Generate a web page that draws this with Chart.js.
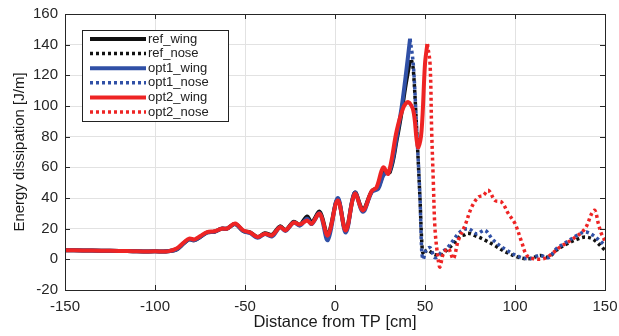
<!DOCTYPE html>
<html>
<head>
<meta charset="utf-8">
<script src="https://cdn.jsdelivr.net/npm/chart.js@4/dist/chart.umd.min.js"></script>
<style>
  body { margin: 0; background: #fff; }
  #wrap { width: 619px; height: 336px; }
</style>
</head>
<body>
<div id="wrap"><canvas id="chart"></canvas></div>
<script>
// wing curves (ref + opt1 share x positions)
const wingX = [-150, -140, -130, -120, -110, -100, -93, -88, -84, -81, -78, -75, -71, -67, -63, -60, -55.5, -51, -47, -43, -39, -35, -30.5, -27.5, -23, -19.5, -15.5, -13, -8.5, -4, 1.5, 6, 11, 15.5, 20.5, 24, 27, 30.5, 34.3, 37, 39, 41.7];
const refWingY = [6, 5.8, 5.6, 5.5, 5.2, 5.2, 5.2, 6.5, 10.5, 13, 12.5, 14.5, 17.5, 18, 20, 20, 23, 18.5, 17.5, 14.5, 17, 16, 21.5, 19, 24.5, 22.5, 28, 24, 31, 16, 39, 19, 43.5, 32.5, 44.5, 47, 56, 57, 78, 96, 112, 130];
const opt1WingY = [6, 5.8, 5.6, 5.5, 5.2, 5.2, 5.2, 6.5, 10.5, 13, 12.5, 14.5, 17.5, 18, 20, 20, 23, 18.5, 17, 14, 16.5, 15, 21, 18.5, 24, 22, 26.5, 23, 30, 12.5, 40, 17.5, 43.5, 31, 44, 46, 55, 58, 80, 99, 117, 143.8];

const opt2WingX = [-150, -140, -130, -120, -110, -100, -93, -88, -84, -81, -78, -75, -71, -67, -63, -60, -55.5, -51, -47, -43, -39, -35, -30.5, -27.5, -23, -19.5, -15.5, -13, -8.5, -4, 1.5, 6, 11, 15.5, 20.4, 23.1, 26.8, 29.6, 34.3, 38, 40.7, 43.5, 45.4, 46.3, 48.1, 50, 51.3];
const opt2WingY = [6, 5.8, 5.6, 5.5, 5.2, 5.2, 5.2, 7, 11, 13.5, 13, 15, 17.8, 18.3, 20, 20, 23.3, 18.9, 17.4, 14.5, 16.7, 15.6, 21, 18.9, 23.9, 22.8, 25.4, 23.2, 29.8, 15.6, 38.4, 18.9, 42.8, 31.9, 44.5, 47, 60, 55.8, 84, 99, 102.5, 97, 77.5, 73, 84, 127.5, 140.5];

// nose curves
const refNoseX = [42.5, 43.5, 45.4, 47.2, 48.5, 49.5, 51, 53, 55.6, 59.3, 62, 65.7, 69.4, 72, 74, 78.7, 83.3, 88, 95.4, 102.8, 108.3, 113.9, 118.5, 123.1, 128.7, 134.3, 138.9, 143.5, 150];
const refNoseY = [130, 124, 84, 40, 6, 3, 6, 5, 3, 3, 6, 10, 15, 16, 17, 15, 12.5, 9.5, 4.5, 1, 0.5, 2.5, 1.5, 6, 10, 13, 14.5, 13, 6];

const opt1NoseX = [41.7, 43.5, 45.4, 47.2, 48.2, 49, 50.5, 52.8, 55.6, 59.3, 62, 65.7, 69.4, 74, 78.7, 83.3, 88, 95.4, 102.8, 108.3, 113.9, 118.5, 123.1, 128.7, 134.3, 138.9, 143.5, 150];
const opt1NoseY = [143.8, 127, 84, 40.6, 5, 0, 5.9, 7.6, 1.1, 4.8, 7, 12.4, 17.8, 20, 16.7, 18.9, 12.4, 5.9, 1.5, 0.4, 2.6, 1.1, 7, 11.3, 15.6, 17.8, 15.6, 9.1];

const opt2NoseX = [51.3, 52.8, 53.7, 54.6, 55.6, 57.4, 58.3, 60.2, 63, 65.7, 68.5, 72.2, 75.9, 79.6, 82.4, 85.2, 88.9, 92.6, 96.3, 100, 103.7, 106.5, 110.2, 115.7, 119.4, 125, 132.4, 138.9, 142.6, 144.4, 146.3, 148, 150];
const opt2NoseY = [140.5, 127.5, 84, 51.5, 18.9, -0.7, -5, 3.7, 7, 0.4, 12.4, 22, 34, 40.6, 41.7, 45, 38.4, 37.3, 29.8, 23.3, 11.3, 2.6, 0.4, 0.4, 2.6, 8, 13.5, 20, 29.8, 31.9, 23.3, 16.7, 12];

const xTicks = [-150, -100, -50, 0, 50, 100, 150];
const yTicks = [-20, 0, 20, 40, 60, 80, 100, 120, 140, 160];

const BLACK = '#111111';
const BLUE = '#3050a6';
const RED = '#ee2424';

function pts(xs, ys) {
  return xs.map((x, i) => ({ x: x, y: ys[i] }));
}

function series(label, xs, ys, color, dotted, order) {
  return {
    label: label,
    data: pts(xs, ys),
    borderColor: color,
    backgroundColor: color,
    borderWidth: dotted ? 3.5 : 4,
    borderDash: dotted ? [3, 3] : [],
    pointRadius: 0,
    tension: 0.35,
    order: order
  };
}

// matlab-ish legend box inside the axes
const boxLegend = {
  id: 'boxLegend',
  afterDatasetsDraw(chart) {
    const ctx = chart.ctx;
    const ca = chart.chartArea;
    const x0 = ca.left + 17, y0 = ca.top + 16, w = 146, h = 91;
    ctx.save();
    ctx.fillStyle = '#fff';
    ctx.fillRect(x0, y0, w, h);
    ctx.strokeStyle = '#222';
    ctx.lineWidth = 1;
    ctx.strokeRect(x0 + 0.5, y0 + 0.5, w, h);
    ctx.font = '13px "Liberation Sans", Arial, sans-serif';
    ctx.textBaseline = 'middle';
    chart.data.datasets.forEach((ds, i) => {
      const y = y0 + 9 + i * 14.6;
      ctx.beginPath();
      ctx.strokeStyle = ds.borderColor;
      ctx.lineWidth = ds.borderWidth;
      ctx.setLineDash(ds.borderDash);
      ctx.moveTo(x0 + 8, y);
      ctx.lineTo(x0 + 64, y);
      ctx.stroke();
      ctx.setLineDash([]);
      ctx.fillStyle = '#222';
      ctx.fillText(ds.label, x0 + 66, y);
    });
    ctx.restore();
  }
};

// box frame and inward ticks
const frame = {
  id: 'frame',
  afterDraw(chart) {
    const ctx = chart.ctx;
    const ca = chart.chartArea;
    const sx = chart.scales.x, sy = chart.scales.y;
    ctx.save();
    ctx.strokeStyle = '#262626';
    ctx.lineWidth = 1;
    ctx.strokeRect(ca.left + 0.5, ca.top + 0.5, ca.right - ca.left, ca.bottom - ca.top);
    ctx.beginPath();
    xTicks.forEach(v => {
      const px = Math.round(sx.getPixelForValue(v)) + 0.5;
      ctx.moveTo(px, ca.bottom); ctx.lineTo(px, ca.bottom - 5);
      ctx.moveTo(px, ca.top); ctx.lineTo(px, ca.top + 5);
    });
    yTicks.forEach(v => {
      const py = Math.round(sy.getPixelForValue(v)) + 0.5;
      ctx.moveTo(ca.left, py); ctx.lineTo(ca.left + 5, py);
      ctx.moveTo(ca.right, py); ctx.lineTo(ca.right - 5, py);
    });
    ctx.stroke();
    ctx.restore();
  }
};

const tickFont = { family: '"Liberation Sans", Arial, sans-serif', size: 15 };

new Chart(document.getElementById('chart'), {
  type: 'line',
  data: {
    datasets: [
      series('ref_wing', wingX, refWingY, BLACK, false, 6),
      series('ref_nose', refNoseX, refNoseY, BLACK, true, 5),
      series('opt1_wing', wingX, opt1WingY, BLUE, false, 4),
      series('opt1_nose', opt1NoseX, opt1NoseY, BLUE, true, 3),
      series('opt2_wing', opt2WingX, opt2WingY, RED, false, 2),
      series('opt2_nose', opt2NoseX, opt2NoseY, RED, true, 1)
    ]
  },
  options: {
    responsive: true,
    maintainAspectRatio: false,
    animation: false,
    layout: { padding: { top: 14, right: 14, left: 0, bottom: 0 } },
    plugins: {
      legend: { display: false },
      tooltip: { enabled: false }
    },
    scales: {
      x: {
        type: 'linear',
        min: -150,
        max: 150,
        afterBuildTicks: s => { s.ticks = xTicks.map(v => ({ value: v })); },
        afterFit: s => { s.height = 46; s.paddingLeft = 0; s.paddingRight = 0; },
        grid: { color: '#e2e2e2', drawTicks: false },
        border: { display: false },
        ticks: { color: '#262626', font: tickFont, padding: 8, maxRotation: 0 },
        title: {
          display: true,
          text: 'Distance from TP [cm]',
          color: '#1a1a1a',
          font: { family: '"Liberation Sans", Arial, sans-serif', size: 16.5 },
          padding: { top: 0, bottom: 4 }
        }
      },
      y: {
        min: -20,
        max: 160,
        afterBuildTicks: s => { s.ticks = yTicks.map(v => ({ value: v })); },
        afterFit: s => { s.width = 65; s.paddingTop = 0; s.paddingBottom = 0; },
        grid: { color: '#e2e2e2', drawTicks: false },
        border: { display: false },
        ticks: { color: '#262626', font: tickFont, padding: 7 },
        title: {
          display: true,
          text: 'Energy dissipation [J/m]',
          color: '#1a1a1a',
          font: tickFont,
          padding: { top: 11, bottom: 0 }
        }
      }
    }
  },
  plugins: [boxLegend, frame]
});
</script>
</body>
</html>
